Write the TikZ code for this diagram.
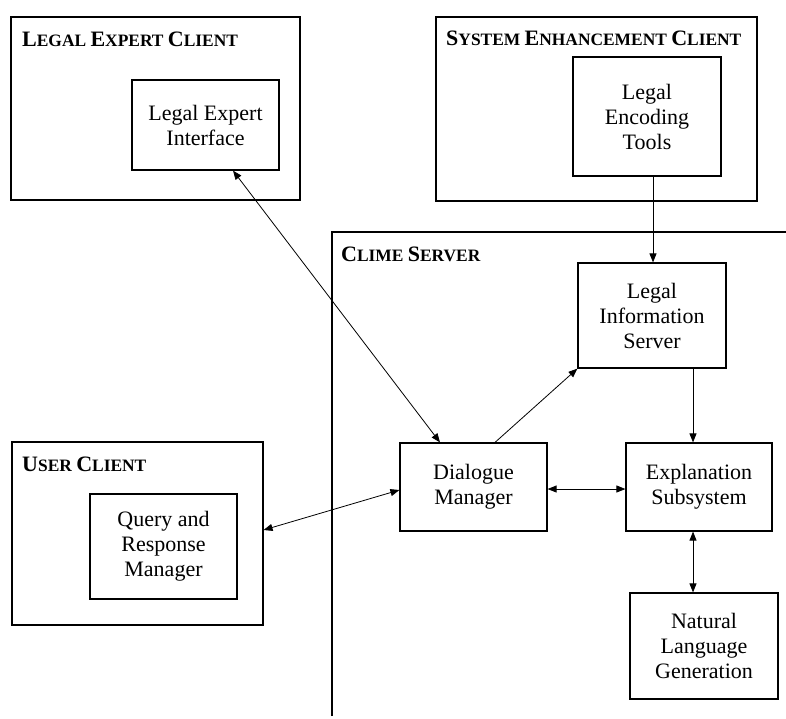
\documentclass[tikz,border=0pt]{standalone}
\usepackage{fontspec}
\setmainfont{Liberation Serif}
\usetikzlibrary{arrows.meta}
\newcommand\scbig[1]{{\fontsize{22}{22}\selectfont #1}}
\newcommand\titlefont{\fontsize{17.4}{20}\selectfont\bfseries}
\begin{document}
\begin{tikzpicture}[x=1pt,y=-1pt,
  outer/.style={draw,line width=1.1pt,minimum width=#1,inner sep=0pt},
  comp/.style={draw,line width=1.2pt,inner sep=0pt,align=center,
    font=\fontsize{22}{25}\selectfont},
  title/.style={anchor=base west,inner sep=0pt,font=\titlefont},
  arr/.style={line width=0.8pt,-{Triangle[length=9pt,width=7pt]}},
  darr/.style={line width=0.8pt,{Triangle[length=9pt,width=7pt]}-{Triangle[length=9pt,width=7pt]}}]
\useasboundingbox (0,0) rectangle (786,718);
% outer client boxes
\node[outer=289pt,minimum height=183pt] (lec) at (155.5,108.5) {};
\node[outer=321pt,minimum height=184pt] (sec) at (596.5,109) {};
\node[outer=251pt,minimum height=183pt] (uc) at (137.5,533.5) {};
% clime server open frame
\coordinate (csb) at (332,716);
\coordinate (cstl) at (332,232);
\coordinate (csr) at (786,232);
\draw[line width=1.1pt] (csb) -- (cstl) -- (csr);
% titles
\node[title] (t1) at (22,46) {\scbig{L}EGAL \scbig{E}XPERT \scbig{C}LIENT};
\node[title] (t2) at (446,45) {\scbig{S}YSTEM \scbig{E}NHANCEMENT \scbig{C}LIENT};
\node[title] (t3) at (341,261) {\scbig{C}LIME \scbig{S}ERVER};
\node[title] (t4) at (22,471) {\scbig{U}SER \scbig{C}LIENT};
% components
\node[comp,minimum width=147pt,minimum height=90pt] (lei) at (205.5,125) {Legal Expert\\Interface};
\node[comp,minimum width=148pt,minimum height=119pt] (let) at (647,116.5) {Legal\\Encoding\\Tools};
\node[comp,minimum width=148pt,minimum height=105pt] (lis) at (652,315.5) {Legal\\Information\\Server};
\node[comp,minimum width=147pt,minimum height=88pt] (dm) at (473.5,487) {Dialogue\\Manager};
\node[comp,minimum width=146pt,minimum height=88pt] (es) at (699,487) {Explanation\\Subsystem};
\node[comp,minimum width=148pt,minimum height=106pt] (nlg) at (704,646) {Natural\\Language\\Generation};
\node[comp,minimum width=147pt,minimum height=105pt] (qrm) at (163.5,546.5) {Query and\\Response\\Manager};
% connectors
\draw[arr] ([xshift=6pt]let.south) -- ([xshift=6pt]let.south |- lis.north);
\draw[arr] ([xshift=41pt]lis.south) -- ([xshift=-6pt]es.north);
\draw[darr] ([xshift=-6pt]es.south) -- ([xshift=-11pt]nlg.north);
\draw[darr] ([yshift=-2pt]dm.east) -- ([yshift=-2pt]es.west);
\draw[arr] ([xshift=21.5pt]dm.north) -- (lis.south west);
\draw[darr] ([xshift=27.5pt]lei.south) -- ([xshift=-33.5pt]dm.north);
\draw[darr] ([yshift=3.5pt]uc.east) -- ([yshift=-3pt]dm.west);
\end{tikzpicture}
\end{document}
